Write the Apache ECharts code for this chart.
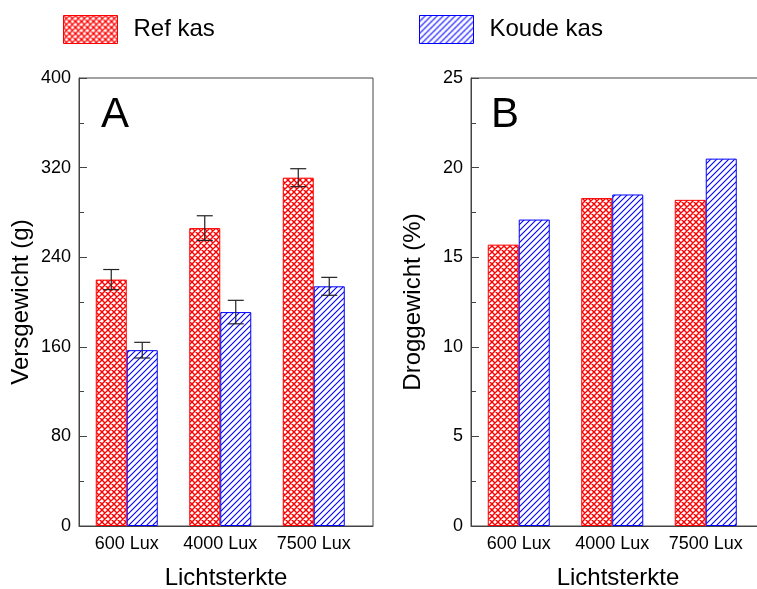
<!DOCTYPE html>
<html>
<head>
<meta charset="utf-8">
<script src="https://cdn.jsdelivr.net/npm/echarts@6/dist/echarts.min.js"></script>
<style>html,body{margin:0;padding:0;background:#fff}#c{width:757px;height:589px}</style>
</head>
<body>
<div id="c"></div>
<script>
// ---- data ----
const categories = ['600 Lux', '4000 Lux', '7500 Lux'];
const refVers = [220, 266, 311];
const refVersErr = [9, 11, 8];
const koudeVers = [157, 191, 214];
const koudeVersErr = [7, 10.5, 8];
const refDroog = [15.7, 18.3, 18.2];
const koudeDroog = [17.1, 18.5, 20.5];
const seriesNames = ['Ref kas', 'Koude kas'];
const panelLabels = ['A', 'B'];
const axisNames = ['Versgewicht (g)', 'Droggewicht (%)', 'Lichtsterkte'];

// ---- patterns ----
function makeHatch(color, cross, lw) {
  const c = document.createElement('canvas');
  c.width = 6; c.height = 6;
  const g = c.getContext('2d');
  g.fillStyle = '#ffffff';
  g.fillRect(0, 0, 6, 6);
  g.strokeStyle = color; g.lineWidth = lw;
  g.beginPath();
  g.moveTo(0, 6); g.lineTo(6, 0);
  g.moveTo(-1, 1); g.lineTo(1, -1);
  g.moveTo(5, 7); g.lineTo(7, 5);
  if (cross) {
    g.moveTo(0, 0); g.lineTo(6, 6);
    g.moveTo(-1, 5); g.lineTo(1, 7);
    g.moveTo(5, -1); g.lineTo(7, 1);
  }
  g.stroke();
  return c.toDataURL('image/png');
}
const redURL = makeHatch('#ff0000', true, 1.4);
const blueURL = makeHatch('#0000ff', false, 1.1);
function redPat() { return { image: redURL, repeat: 'repeat' }; }
function bluePat() { return { image: blueURL, repeat: 'repeat' }; }

const FONT = 'Liberation Sans';
const AX = '#444';
const half = 15.5;

function errData(vals, errs, sign) {
  return vals.map((v, i) => [i, v, errs[i], sign]);
}
function renderErr(params, api) {
  const idx = api.value(0), m = api.value(1), e = api.value(2), s = api.value(3);
  const cx = api.coord([idx, m])[0] + s * half;
  const yH = api.coord([idx, m + e])[1];
  const yL = api.coord([idx, m - e])[1];
  const st = { stroke: '#222', lineWidth: 1.2 };
  return {
    type: 'group',
    children: [
      { type: 'line', shape: { x1: cx, y1: yH, x2: cx, y2: yL }, style: st },
      { type: 'line', shape: { x1: cx - 8, y1: yH, x2: cx + 8, y2: yH }, style: st },
      { type: 'line', shape: { x1: cx - 8, y1: yL, x2: cx + 8, y2: yL }, style: st }
    ]
  };
}

function catAxis(grid) {
  return {
    type: 'category', gridIndex: grid, data: categories,
    axisLine: { show: false }, axisTick: { show: false },
    axisLabel: { color: '#000', fontSize: 18, margin: 9, interval: 0, hideOverlap: false, fontFamily: FONT }
  };
}
function frameXAxis(grid) {
  return {
    type: 'value', gridIndex: grid, min: 0, max: 1,
    name: axisNames[2], nameLocation: 'middle', nameGap: 40,
    nameTextStyle: { fontSize: 24, color: '#000', fontFamily: FONT },
    axisLine: { show: true, lineStyle: { color: AX, width: 1 } },
    axisTick: { show: false }, axisLabel: { show: false }, splitLine: { show: false }
  };
}
function hiddenY(grid, max) {
  return { type: 'value', gridIndex: grid, min: 0, max: max, show: false, splitLine: { show: false } };
}
function frameY(grid, max, interval, name) {
  return {
    type: 'value', gridIndex: grid, min: 0, max: max, interval: interval,
    name: name, nameLocation: 'middle', nameGap: 46, nameRotate: 90,
    nameTextStyle: { fontSize: 24, color: '#000', fontFamily: FONT },
    axisLine: { show: true, lineStyle: { color: AX, width: 1 } },
    axisTick: { show: true, inside: true, length: 8, lineStyle: { color: AX } },
    minorTick: { show: true, splitNumber: 2, length: 5, lineStyle: { color: AX } },
    axisLabel: { color: '#000', fontSize: 18, margin: 8, fontFamily: FONT },
    splitLine: { show: false }, minorSplitLine: { show: false }
  };
}
function barSeries(name, xi, data, pat, border) {
  return { name: name, type: 'bar', xAxisIndex: xi, yAxisIndex: xi, data: data, barWidth: 31, barGap: '0%',
    itemStyle: { color: pat, borderColor: border, borderWidth: 1 },
    emphasis: { disabled: true } };
}

const gridBase = { top: 78, height: 448, outerBoundsMode: 'none', containLabel: false };

const chart = echarts.init(document.getElementById('c'));
chart.setOption({
  animation: false,
  textStyle: { fontFamily: FONT },
  title: [
    { text: panelLabels[0], left: 101, top: 94, padding: 0, textStyle: { fontSize: 42, fontWeight: 'normal', color: '#000', fontFamily: FONT } },
    { text: panelLabels[1], left: 491, top: 94, padding: 0, textStyle: { fontSize: 42, fontWeight: 'normal', color: '#000', fontFamily: FONT } }
  ],
  legend: [
    {
      left: 63, top: 15, padding: 0, itemWidth: 54, itemHeight: 28, icon: 'rect',
      data: [{ name: seriesNames[0], itemStyle: { color: redPat(), borderColor: '#ff0000', borderWidth: 1 } }],
      textStyle: { fontSize: 24, color: '#000', padding: [4, 0, 0, 11], fontFamily: FONT }
    },
    {
      left: 419, top: 15, padding: 0, itemWidth: 54, itemHeight: 28, icon: 'rect',
      data: [{ name: seriesNames[1], itemStyle: { color: bluePat(), borderColor: '#0000ff', borderWidth: 1 } }],
      textStyle: { fontSize: 24, color: '#000', padding: [4, 0, 0, 11], fontFamily: FONT }
    }
  ],
  grid: [
    Object.assign({ left: 80, width: 280.5 }, gridBase),
    Object.assign({ left: 79, width: 294, show: true, borderColor: AX, borderWidth: 1, backgroundColor: 'transparent' }, gridBase),
    Object.assign({ left: 472, width: 280.5 }, gridBase),
    Object.assign({ left: 471, width: 294, show: true, borderColor: AX, borderWidth: 1, backgroundColor: 'transparent' }, gridBase)
  ],
  xAxis: [catAxis(0), frameXAxis(1), catAxis(2), frameXAxis(3)],
  yAxis: [hiddenY(0, 400), frameY(1, 400, 80, axisNames[0]), hiddenY(2, 25), frameY(3, 25, 5, axisNames[1])],
  series: [
    barSeries(seriesNames[0], 0, refVers, redPat(), '#ff0000'),
    barSeries(seriesNames[1], 0, koudeVers, bluePat(), '#0000ff'),
    barSeries(seriesNames[0], 2, refDroog, redPat(), '#ff0000'),
    barSeries(seriesNames[1], 2, koudeDroog, bluePat(), '#0000ff'),
    { name: 'errRef', type: 'custom', xAxisIndex: 0, yAxisIndex: 0, renderItem: renderErr,
      encode: { x: 0, y: 1 }, data: errData(refVers, refVersErr, -1), z: 5 },
    { name: 'errKoude', type: 'custom', xAxisIndex: 0, yAxisIndex: 0, renderItem: renderErr,
      encode: { x: 0, y: 1 }, data: errData(koudeVers, koudeVersErr, 1), z: 5 }
  ]
});
</script>
</body>
</html>
